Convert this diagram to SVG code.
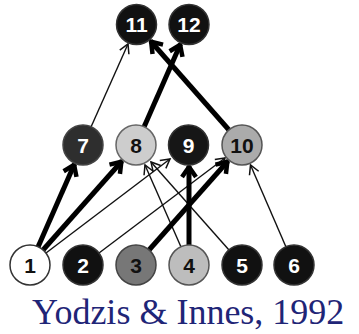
<svg xmlns="http://www.w3.org/2000/svg" width="359" height="334" viewBox="0 0 359 334">
<style>
.thick{stroke:#000;stroke-width:5;fill:none;stroke-linecap:butt}
.thin{stroke:#111;stroke-width:1.4;fill:none}
.n circle{stroke-width:1.5}
.lbl{font-family:"Liberation Sans",Arial,sans-serif;font-weight:bold;font-size:21px;text-anchor:middle}
.w{fill:#fff}
.k{fill:#111}
</style>
<defs>
<marker id="ak" markerUnits="userSpaceOnUse" markerWidth="30" markerHeight="30" viewBox="-15 -15 30 30" refX="0" refY="0" orient="auto">
<path d="M-11,-7 L-1,0 L-11,7" fill="none" stroke="#000" stroke-width="4.5" stroke-linejoin="miter"/>
</marker>
<marker id="an" markerUnits="userSpaceOnUse" markerWidth="30" markerHeight="30" viewBox="-15 -15 30 30" refX="0" refY="0" orient="auto">
<path d="M-9,-5 L0,0 L-9,5" fill="none" stroke="#111" stroke-width="1.5"/>
</marker>
</defs>
<rect width="359" height="334" fill="#fff"/>
<g id="connectors">
<line class="thin" x1="46" y1="253" x2="170" y2="159" marker-end="url(#an)"/>
<line class="thin" x1="99" y1="253" x2="225" y2="158" marker-end="url(#an)"/>
<line class="thin" x1="181" y1="247" x2="145" y2="165" marker-end="url(#an)"/>
<line class="thin" x1="229" y1="250" x2="151" y2="162" marker-end="url(#an)"/>
<line class="thin" x1="286" y1="247" x2="250.5" y2="165" marker-end="url(#an)"/>
<line class="thin" x1="91" y1="127" x2="128" y2="44" marker-end="url(#an)"/>
<line class="thick" x1="38" y1="247" x2="74.5" y2="164" marker-end="url(#ak)"/>
<line class="thick" x1="43" y1="250" x2="122" y2="161" marker-end="url(#ak)"/>
<line class="thick" x1="149" y1="250" x2="228" y2="161" marker-end="url(#ak)"/>
<line class="thick" x1="189" y1="245" x2="189" y2="166" marker-end="url(#ak)"/>
<line class="thick" x1="144" y1="127" x2="180.5" y2="44" marker-end="url(#ak)"/>
<line class="thick" x1="229" y1="130" x2="150.5" y2="41" marker-end="url(#ak)"/>
</g>
<g id="n11" class="n"><circle cx="136.5" cy="24.5" r="20" fill="#111" stroke="#333"/><text class="lbl w" x="136.5" y="32">11</text></g>
<g id="n12" class="n"><circle cx="189" cy="24.5" r="20" fill="#111" stroke="#333"/><text class="lbl w" x="189" y="32">12</text></g>
<g id="n7" class="n"><circle cx="83" cy="145" r="20" fill="#2e2e2e" stroke="#444"/><text class="lbl w" x="83" y="152.5">7</text></g>
<g id="n8" class="n"><circle cx="136" cy="145" r="20" fill="#cdcdcd" stroke="#666"/><text class="lbl k" x="136" y="152.5">8</text></g>
<g id="n9" class="n"><circle cx="188.5" cy="145" r="20" fill="#161616" stroke="#333"/><text class="lbl w" x="188.5" y="152.5">9</text></g>
<g id="n10" class="n"><circle cx="242" cy="145" r="20" fill="#ababab" stroke="#555"/><text class="lbl k" x="242" y="152.5">10</text></g>
<g id="n1" class="n"><circle cx="30" cy="265" r="20" fill="#fff" stroke="#333"/><text class="lbl k" x="30" y="272.5">1</text></g>
<g id="n2" class="n"><circle cx="83" cy="265" r="20" fill="#111" stroke="#333"/><text class="lbl w" x="83" y="272.5">2</text></g>
<g id="n3" class="n"><circle cx="136" cy="265" r="20" fill="#777" stroke="#444"/><text class="lbl k" x="136" y="272.5">3</text></g>
<g id="n4" class="n"><circle cx="189" cy="265" r="20" fill="#bdbdbd" stroke="#555"/><text class="lbl k" x="189" y="272.5">4</text></g>
<g id="n5" class="n"><circle cx="242" cy="265" r="20" fill="#111" stroke="#333"/><text class="lbl w" x="242" y="272.5">5</text></g>
<g id="n6" class="n"><circle cx="294" cy="265" r="20" fill="#111" stroke="#333"/><text class="lbl w" x="294" y="272.5">6</text></g>
<text x="32" y="324" font-family="'Liberation Serif','Times New Roman',serif" font-size="36" fill="#1f2577">Yodzis &amp; Innes, 1992</text>
</svg>
